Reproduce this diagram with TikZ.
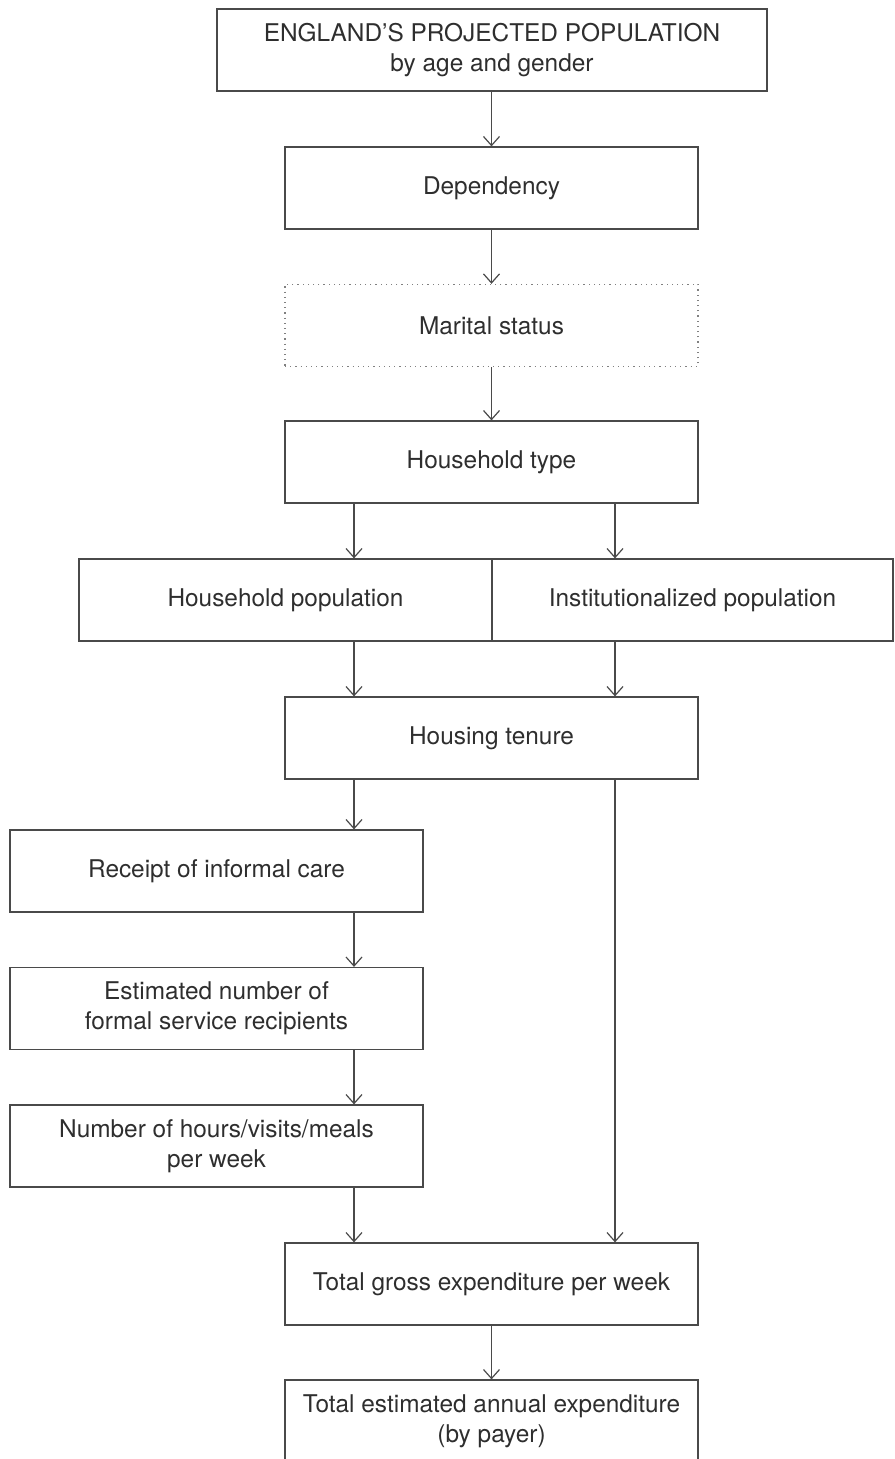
\documentclass[tikz,border=0pt]{standalone}
\usepackage{fontspec}
\setmainfont{TeX Gyre Heros}
\usepackage{tikz}
\usetikzlibrary{arrows.meta}
\usetikzlibrary{calc}

\definecolor{linegray}{HTML}{4A4A4A}
\definecolor{textgray}{HTML}{2E2E2E}

\tikzset{
    box/.style={draw=linegray, line width=0.6pt, rectangle, align=center,
        minimum width=206.5pt, minimum height=41pt, inner sep=0pt,
        text=textgray, font=\fontsize{12.2}{15}\selectfont},
    dotbox/.style={box, draw=gray, dotted, line width=0.7pt},
    arr/.style={draw=linegray, line width=0.6pt,
        -{Straight Barb[length=4.5pt,width=8pt,line width=0.6pt]}}
}

\begin{document}
\begin{tikzpicture}[x=0.5pt, y=-0.5pt]
            \useasboundingbox (0,0) rectangle (894,1459);
            \coordinate (C) at (491.5,0);
            \coordinate (L) at (354,0);
            \coordinate (R) at (615,0);
            \node[box, minimum width=275pt] (pop) at (492,50) {ENGLAND'S PROJECTED POPULATION\\by age and gender};
            \node[box] (dep) at (491.5,188) {Dependency};
            \node[dotbox] (marital) at (491.5,325.5) {Marital status};
            \node[box] (htype) at (491.5,462) {Household type};
            \node[box] (hhpop) at (285.5,600) {Household population};
            \node[box, minimum width=200.5pt] (inst) at (692.5,600) {Institutionalized population};
            \node[box] (tenure) at (491.5,738) {Housing tenure};
            \node[box] (informal) at (216.5,871) {Receipt of informal care};
            \node[box] (recip) at (216.5,1008.5) {Estimated number of\\formal service recipients};
            \node[box] (hours) at (216.5,1146) {Number of hours/visits/meals\\per week};
            \node[box] (gross) at (491.5,1284) {Total gross expenditure per week};
            \node[box] (annual) at (491.5,1421) {Total estimated annual expenditure\\(by payer)};
            \foreach \a/\b/\x in {pop/dep/C, dep/marital/C, marital/htype/C,
                htype/hhpop/L, htype/inst/R, hhpop/tenure/L, inst/tenure/R,
                tenure/informal/L, tenure/gross/R, informal/recip/L,
                recip/hours/L, hours/gross/L, gross/annual/C} {
                \draw[arr] (\a.south -| \x) -- (\b.north -| \x);
            }
        \end{tikzpicture}
\end{document}
